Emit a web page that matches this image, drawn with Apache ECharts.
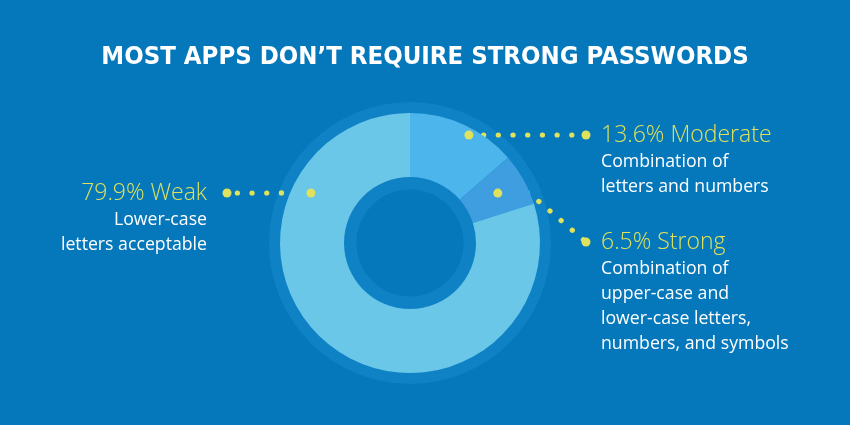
<!DOCTYPE html>
<html>
<head>
<meta charset="utf-8">
<script src="https://cdn.jsdelivr.net/npm/echarts@6/dist/echarts.min.js"></script>
<style>
  html, body { margin: 0; padding: 0; background: #0577bb; }
  #main { width: 850px; height: 425px; }
</style>
</head>
<body>
<div id="main"></div>
<script>
// data
const categories = ['Moderate', 'Strong', 'Weak'];
const shares = [13.6, 6.5, 79.9];
const descriptions = [
  ['Combination of', 'letters and numbers'],
  ['Combination of', 'upper-case and', 'lower-case letters,', 'numbers, and symbols'],
  ['Lower-case', 'letters acceptable']
];
const sliceColors = ['#4bb5ec', '#3e9ee0', '#6ac7e8'];

const yellow = '#dfe25c';
const cx = 410, cy = 243;

function polar(deg, r) {
  var a = deg * Math.PI / 180;
  return [cx + r * Math.sin(a), cy - r * Math.cos(a)];
}

// callout leader lines (annotation layout)
var callouts = [
  { from: polar(28.6, 123), via: [], to: [586, 135], label: [601, 135], align: 'left' },
  { from: polar(60.4, 101), via: [[529, 193]], to: [586, 242], label: [601, 242], align: 'left' },
  { from: polar(-63.2, 111), via: [], to: [227, 193], label: [207, 193], align: 'right' }
];

var dots = [];
callouts.forEach(function (c) {
  [c.from, c.to].forEach(function (p) {
    dots.push({
      type: 'circle',
      shape: { cx: p[0], cy: p[1], r: 4.5 },
      style: { fill: yellow },
      z: 100,
      silent: true
    });
  });
});

var chart = echarts.init(document.getElementById('main'));

var option = {
  backgroundColor: '#0577bb',
  animation: false,
  title: {
    text: 'MOST APPS DON\u2019T REQUIRE STRONG PASSWORDS',
    left: 'center',
    top: 37,
    textStyle: {
      color: '#ffffff',
      fontFamily: '"DejaVu Sans Condensed", sans-serif',
      fontWeight: 'bold',
      fontSize: 25.5,
      lineHeight: 30
    }
  },
  graphic: dots,
  series: [
    {
      // outer halo ring
      type: 'pie',
      silent: true,
      center: [cx, cy],
      radius: [128, 141],
      label: { show: false },
      labelLine: { show: false },
      itemStyle: { color: '#0f82c5' },
      data: [1],
      z: 1
    },
    {
      // inner ring in the hole
      type: 'pie',
      silent: true,
      center: [cx, cy],
      radius: [53.5, 68],
      label: { show: false },
      labelLine: { show: false },
      itemStyle: { color: '#0f82c5' },
      data: [1],
      z: 1
    },
    {
      type: 'pie',
      center: [cx, cy],
      radius: [66, 130],
      startAngle: 90,
      clockwise: true,
      z: 2,
      emphasis: { disabled: true },
      data: categories.map(function (name, i) {
        return { name: name, value: shares[i], itemStyle: { color: sliceColors[i] } };
      }),
      label: {
        show: true,
        position: 'outside',
        formatter: function (p) {
          var lines = ['{pct|' + p.value + '% ' + p.name + '}'];
          descriptions[p.dataIndex].forEach(function (s) { lines.push('{sub|' + s + '}'); });
          return lines.join('\n');
        },
        rich: {
          pct: {
            color: yellow,
            fontFamily: '"Open Sans", sans-serif',
            fontWeight: 300,
            fontSize: 23,
            lineHeight: 28
          },
          sub: {
            color: '#ffffff',
            fontFamily: '"Open Sans", sans-serif',
            fontSize: 17.7,
            lineHeight: 25
          }
        }
      },
      labelLine: {
        show: true,
        smooth: false,
        lineStyle: {
          color: yellow,
          width: 5.2,
          type: [0.1, 14.6],
          cap: 'round'
        }
      },
      labelLayout: function (p) {
        var c = callouts[p.dataIndex];
        return {
          x: c.label[0],
          y: c.label[1] - 14,
          align: c.align,
          verticalAlign: 'top',
          labelLinePoints: [c.from].concat(c.via, [c.to])
        };
      }
    }
  ]
};

chart.setOption(option);
</script>
</body>
</html>
